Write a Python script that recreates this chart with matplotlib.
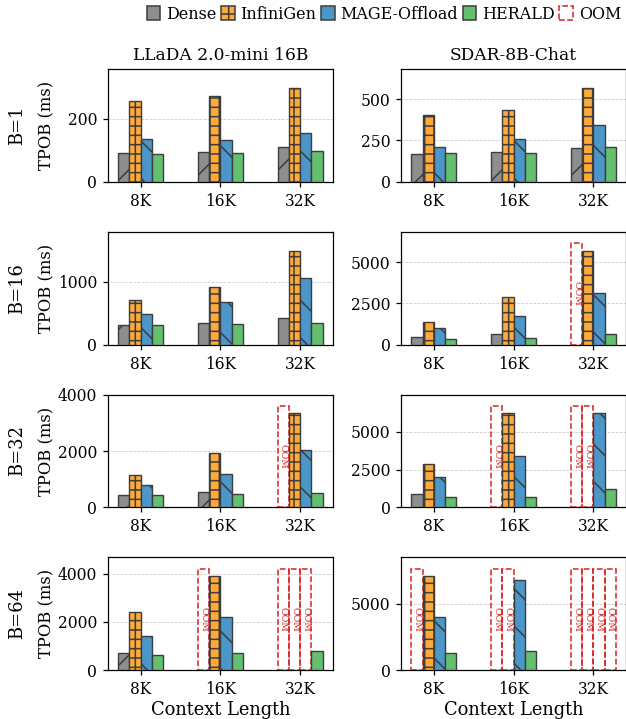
import matplotlib
matplotlib.use("Agg")
import matplotlib.pyplot as plt
from matplotlib.patches import Patch, Rectangle
import numpy as np

plt.rcParams['font.family'] = ['DejaVu Serif']
plt.rcParams['hatch.linewidth'] = 1.0

models = ["LLaDA 2.0-mini 16B", "SDAR-8B-Chat"]
batches = ["B=1", "B=16", "B=32", "B=64"]
contexts = ["8K", "16K", "32K"]
methods = ["Dense", "InfiniGen", "MAGE-Offload", "HERALD"]

colors = ["#8e8e8e", "#ffaa38", "#4b97c9", "#64c06f"]
hatches = ["/", "++", "\\", ""]

nan = np.nan

# TPOB (ms), rows = context (8K, 16K, 32K), cols = methods; nan = OOM
llada_b1 = [[92, 255, 134, 89], [95, 271, 132, 91], [109, 297, 154, 96]]
sdar_b1 = [[171, 401, 208, 173], [183, 434, 257, 173], [202, 568, 346, 212]]
llada_b16 = [[315, 712, 489, 315], [337, 918, 674, 326], [429, 1500, 1065, 337]]
sdar_b16 = [[473, 1400, 1008, 370], [617, 2860, 1728, 391], [nan, 5700, 3107, 638]]
llada_b32 = [[446, 1157, 795, 422], [530, 1940, 1193, 470], [nan, 3337, 2036, 494]]
sdar_b32 = [[878, 2838, 1982, 653], [nan, 6220, 3378, 698], [nan, nan, 6220, 1216]]
llada_b64 = [[707, 2404, 1400, 636], [nan, 3904, 2207, 707], [nan, nan, nan, 792]]
sdar_b64 = [[nan, 7077, 3974, 1282], [nan, nan, 6769, 1410], [nan, nan, nan, nan]]

panels = [
    [llada_b1, sdar_b1],
    [llada_b16, sdar_b16],
    [llada_b32, sdar_b32],
    [llada_b64, sdar_b64],
]

fig, axes = plt.subplots(4, 2, figsize=(626.01 / 112, 719.01 / 112), dpi=112)
fig.subplots_adjust(left=0.1725, right=1.0, top=0.904, bottom=0.068,
                    wspace=0.305, hspace=0.442)

bar_width = 0.14
x = np.arange(len(contexts))

for r in range(4):
    for c in range(2):
        ax = axes[r, c]
        data = np.array(panels[r][c], dtype=float)
        vmax = np.nanmax(data)
        oom_h = vmax * 1.08
        for i in range(len(methods)):
            pos = x + (i - 1.5) * bar_width
            vals = data[:, i]
            ok = ~np.isnan(vals)
            ax.bar(pos[ok], vals[ok], width=bar_width, color=colors[i],
                   hatch=hatches[i], edgecolor="#3d3d3d", linewidth=0.9,
                   zorder=3)
            for p in pos[~ok]:
                ax.add_patch(Rectangle((p - bar_width / 2, 0), bar_width, oom_h,
                                       fill=False, edgecolor="#d62728",
                                       linestyle="--", linewidth=1.0, zorder=3))
                ax.text(p, oom_h / 2, "OOM", rotation=270, color="#d62728",
                        fontsize=6, ha="center", va="center", zorder=4)
        ax.set_ylim(0, vmax * 1.2)
        ax.set_xlim(-0.408, 2.408)
        ax.set_xticks(x)
        ax.set_xticklabels(contexts, fontsize=10)
        ax.tick_params(axis='y', labelsize=10)
        ax.grid(axis='y', linestyle='--', linewidth=0.5, color="#cccccc", zorder=0)
        ax.set_axisbelow(True)
        if r == 0:
            ax.set_title(models[c], fontsize=11)
        if r == 3:
            ax.set_xlabel("Context Length", fontsize=11.5, labelpad=2)
        if c == 0:
            ax.set_ylabel("TPOB (ms)", fontsize=10.5)
            ax.yaxis.set_label_coords(-0.235, 0.5)
            pos_ax = ax.get_position()
            fig.text(17 / 626, (pos_ax.y0 + pos_ax.y1) / 2, batches[r],
                     rotation=90, fontsize=11.5, ha="center", va="center")

handles = [Patch(facecolor=colors[i], hatch=hatches[i], edgecolor="#3d3d3d",
                 label=methods[i]) for i in range(len(methods))]
handles.append(Patch(facecolor="white", edgecolor="#d62728", linestyle="--",
                     label="OOM"))
fig.legend(handles=handles, loc="center right", bbox_to_anchor=(621 / 626, 0.9805),
           ncol=5, frameon=False, fontsize=10.3, handlelength=0.85,
           handleheight=0.9, handletextpad=0.35, columnspacing=0.3,
           borderaxespad=0, borderpad=0)

plt.savefig("out.png", dpi=112)
